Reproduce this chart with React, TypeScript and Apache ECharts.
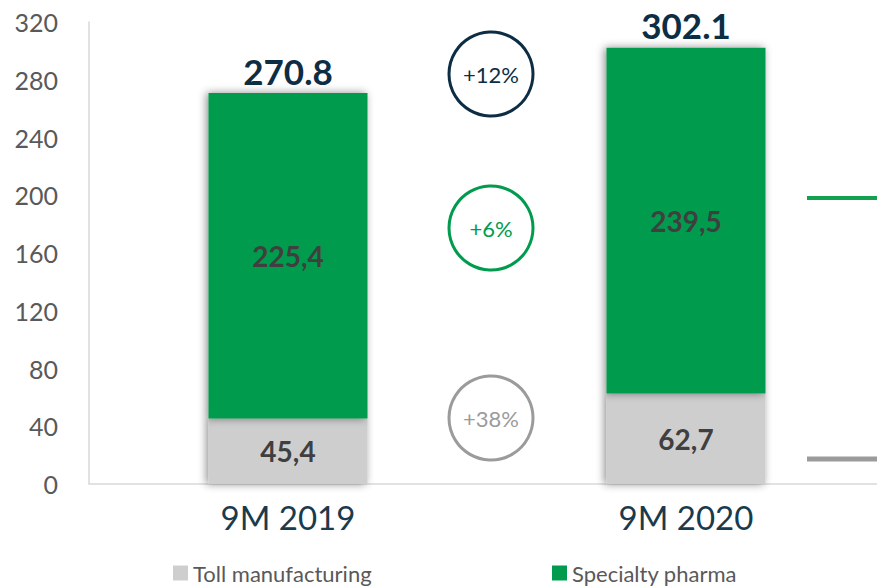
import React, { useEffect, useRef } from "react";
import * as echarts from "echarts";

const categories = ["9M 2019", "9M 2020"];
const tollManufacturing = [45.4, 62.7];
const specialtyPharma = [225.4, 239.5];
const totals = [270.8, 302.1];
const growthLabels = ["+12%", "+6%", "+38%"];
const yTicks = { min: 0, max: 320, interval: 40 };

const FONT = "Lato, 'Open Sans', sans-serif";
const GREEN = "#009b4d";
const GRAY = "#cfcecf";
const NAVY = "#0d2d45";

export default function App() {
  const ref = useRef<HTMLDivElement>(null);
  useEffect(() => {
    if (!ref.current) return;
    const chart = echarts.init(ref.current, undefined, { renderer: "svg" });
    const comma = (p: any) => String(p.value).replace(".", ",");
    const shadow = {
      shadowBlur: 8,
      shadowColor: "rgba(0,0,0,0.45)",
      shadowOffsetX: -2,
      shadowOffsetY: 0,
    };
    const circle = (cy: number, color: string, text: string) => ({
      type: "group",
      children: [
        {
          type: "circle",
          shape: { cx: 491, cy, r: 42 },
          style: { fill: "#fff", stroke: color, lineWidth: 3 },
        },
        {
          type: "text",
          x: 491,
          y: cy,
          style: {
            text,
            fill: color,
            font: `22px ${FONT}`,
            align: "center",
            verticalAlign: "middle",
          },
        },
      ],
    });
    const legendBase = {
      top: 562,
      padding: 0,
      itemWidth: 15,
      itemHeight: 15,
      itemGap: 5,
      icon: "rect",
      textStyle: { fontSize: 22, color: "#595959", fontFamily: FONT },
    };
    const barLabel = {
      show: true,
      position: "inside",
      formatter: comma,
      fontSize: 28,
      fontWeight: "bold",
      color: "#3f3f3f",
      fontFamily: FONT,
    };
    chart.setOption({
      animation: false,
      textStyle: { fontFamily: FONT },
      grid: { left: 89, width: 796, top: 22, bottom: 103, outerBoundsMode: "none", containLabel: false },
      legend: [
        { ...legendBase, left: 173, data: ["Toll manufacturing"] },
        { ...legendBase, left: 552, data: ["Specialty pharma"] },
      ],
      xAxis: {
        type: "category",
        data: categories,
        axisLine: { lineStyle: { color: "#d9d9d9", width: 1.5 } },
        axisTick: { show: false },
        axisLabel: { fontSize: 33, color: "#1a3a4e", margin: 16, fontFamily: FONT },
      },
      yAxis: {
        type: "value",
        min: yTicks.min,
        max: yTicks.max,
        interval: yTicks.interval,
        axisLine: { show: true, lineStyle: { color: "#d9d9d9", width: 1.5 } },
        splitLine: { show: false },
        axisTick: { show: false },
        axisLabel: { fontSize: 25, color: "#595959", margin: 31, fontFamily: FONT },
      },
      series: [
        {
          name: "Toll manufacturing",
          type: "bar",
          stack: "t",
          barWidth: 159,
          data: tollManufacturing,
          itemStyle: { color: GRAY, ...shadow },
          label: barLabel,
        },
        {
          name: "Specialty pharma",
          type: "bar",
          stack: "t",
          barWidth: 159,
          data: specialtyPharma,
          itemStyle: { color: GREEN, ...shadow },
          label: barLabel,
        },
        {
          name: "Total",
          type: "bar",
          barWidth: 159,
          barGap: "-100%",
          data: totals,
          silent: true,
          itemStyle: { color: "rgba(0,0,0,0)" },
          z: 1,
          label: {
            show: true,
            position: "top",
            distance: 5,
            formatter: (p: any) => String(p.value),
            fontSize: 35,
            fontWeight: "bold",
            color: NAVY,
            fontFamily: FONT,
          },
        },
      ],
      graphic: [
        circle(74, NAVY, growthLabels[0]),
        circle(228, GREEN, growthLabels[1]),
        circle(418, "#9b9b9b", growthLabels[2]),
        {
          type: "line",
          shape: { x1: 807, y1: 198, x2: 877, y2: 198 },
          style: { stroke: "#13a150", lineWidth: 4 },
        },
        {
          type: "line",
          shape: { x1: 807, y1: 459, x2: 877, y2: 459 },
          style: { stroke: "#9b9b9b", lineWidth: 5 },
        },
      ],
    });
    return () => chart.dispose();
  }, []);
  return (
    <div
      ref={ref}
      style={{ position: "absolute", left: 0, top: 0, width: 877, height: 587 }}
    />
  );
}
